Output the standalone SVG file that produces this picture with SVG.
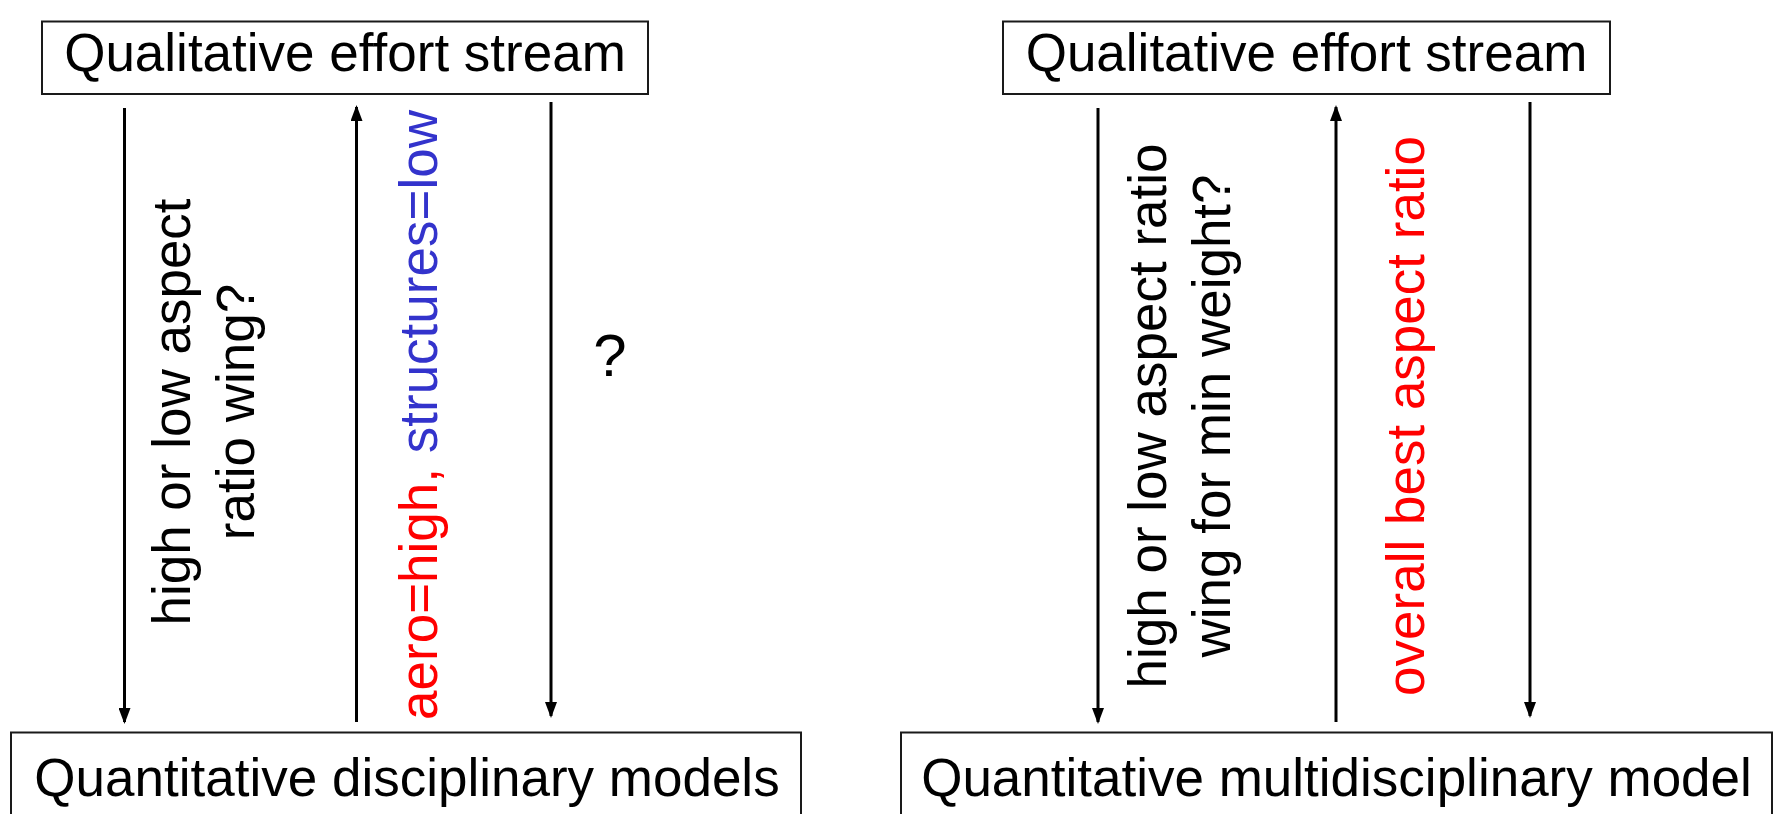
<svg xmlns="http://www.w3.org/2000/svg" width="1775" height="814" viewBox="0 0 1775 814">
<style>
.box{fill:#fff;stroke:#1a1a1a;stroke-width:2}
.t{font-family:"Liberation Sans",Arial,sans-serif;font-size:53px;fill:#000}
.c{text-anchor:middle}
.ln{stroke:#000;stroke-width:3;fill:none}
.red{fill:#ff0000}
.blue{fill:#3333cc}
</style>
<defs>
<marker id="ah" viewBox="0 0 16 12" refX="14" refY="6" markerWidth="16" markerHeight="12" markerUnits="userSpaceOnUse" orient="auto">
<path d="M0,0 L16,6 L0,12 z" fill="#000"/>
</marker>
</defs>
<rect width="1775" height="814" fill="#fff"/>
<g id="qual-left">
<rect class="box" x="42" y="21.5" width="606" height="72.5"/>
<text class="t c" x="345" y="71">Qualitative effort stream</text>
</g>
<g id="quant-left">
<rect class="box" x="11" y="732.5" width="790" height="100"/>
<text class="t c" x="407" y="796">Quantitative disciplinary models</text>
</g>
<g id="qual-right">
<rect class="box" x="1003" y="21.5" width="607" height="72.5"/>
<text class="t c" x="1306.5" y="71">Qualitative effort stream</text>
</g>
<g id="quant-right">
<rect class="box" x="901" y="732.5" width="871" height="100"/>
<text class="t c" x="1336.5" y="796">Quantitative multidisciplinary model</text>
</g>
<g id="connectors">
<line class="ln" x1="124.5" y1="108" x2="124.5" y2="722" marker-end="url(#ah)"/>
<line class="ln" x1="356.5" y1="722" x2="356.5" y2="107" marker-end="url(#ah)"/>
<line class="ln" x1="551" y1="102" x2="551" y2="716" marker-end="url(#ah)"/>
<line class="ln" x1="1098" y1="108" x2="1098" y2="722" marker-end="url(#ah)"/>
<line class="ln" x1="1336" y1="722" x2="1336" y2="107" marker-end="url(#ah)"/>
<line class="ln" x1="1530" y1="102" x2="1530" y2="716" marker-end="url(#ah)"/>
</g>
<g id="labels">
<text class="t c" transform="translate(190,412) rotate(-90)"><tspan x="0" y="0">high or low aspect</tspan><tspan x="0" y="64">ratio wing?</tspan></text>
<text class="t c" transform="translate(437,415) rotate(-90)"><tspan class="red">aero=high,</tspan><tspan class="blue"> structures=low</tspan></text>
<text class="t c" x="610" y="376" style="font-size:60px">?</text>
<text class="t c" transform="translate(1166,416) rotate(-90)"><tspan x="0" y="0">high or low aspect ratio</tspan><tspan x="0" y="64">wing for min weight?</tspan></text>
<text class="t c red" transform="translate(1424,416) rotate(-90)">overall best aspect ratio</text>
</g>
</svg>
